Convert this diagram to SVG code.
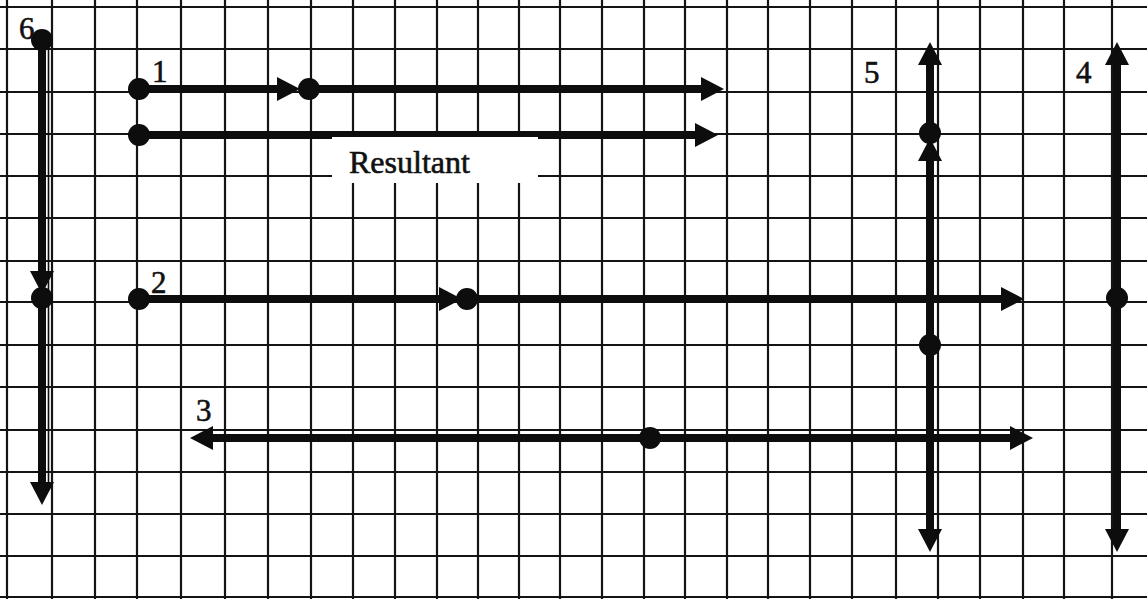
<svg xmlns="http://www.w3.org/2000/svg" width="1147" height="599" viewBox="0 0 1147 599">
  <defs>
    <style>
      .grid line { stroke: #141414; stroke-width: 2.2; }
      .vec { stroke: #0d0d0d; stroke-width: 8; fill: none; marker-end: url(#head); }
      .dot { fill: #0d0d0d; }
      .lbl { font-family: "Liberation Serif", "Times New Roman", serif; font-size: 31px; fill: #111; stroke: #111; stroke-width: 0.6; }
    </style>
    <marker id="head" markerUnits="userSpaceOnUse" markerWidth="24" markerHeight="26" viewBox="0 0 24 26" refX="1" refY="13" orient="auto">
      <path d="M0,1 L23,13 L0,25 Z" fill="#0d0d0d"/>
    </marker>
  </defs>

  <rect width="1147" height="599" fill="#ffffff"/>

  <!-- square grid -->
  <g id="grid" class="grid">
    <line x1="7" y1="0" x2="7" y2="599"/>
    <line x1="52" y1="0" x2="52" y2="599"/>
    <line x1="95" y1="0" x2="95" y2="599"/>
    <line x1="137" y1="0" x2="137" y2="599"/>
    <line x1="181" y1="0" x2="181" y2="599"/>
    <line x1="225" y1="0" x2="225" y2="599"/>
    <line x1="268" y1="0" x2="268" y2="599"/>
    <line x1="311" y1="0" x2="311" y2="599"/>
    <line x1="353" y1="0" x2="353" y2="599"/>
    <line x1="395" y1="0" x2="395" y2="599"/>
    <line x1="437" y1="0" x2="437" y2="599"/>
    <line x1="478" y1="0" x2="478" y2="599"/>
    <line x1="519" y1="0" x2="519" y2="599"/>
    <line x1="560" y1="0" x2="560" y2="599"/>
    <line x1="602" y1="0" x2="602" y2="599"/>
    <line x1="644" y1="0" x2="644" y2="599"/>
    <line x1="685" y1="0" x2="685" y2="599"/>
    <line x1="727" y1="0" x2="727" y2="599"/>
    <line x1="768" y1="0" x2="768" y2="599"/>
    <line x1="810" y1="0" x2="810" y2="599"/>
    <line x1="852" y1="0" x2="852" y2="599"/>
    <line x1="896" y1="0" x2="896" y2="599"/>
    <line x1="938" y1="0" x2="938" y2="599"/>
    <line x1="980" y1="0" x2="980" y2="599"/>
    <line x1="1023" y1="0" x2="1023" y2="599"/>
    <line x1="1064" y1="0" x2="1064" y2="599"/>
    <line x1="1112" y1="0" x2="1112" y2="599"/>

    <line x1="0" y1="7" x2="1147" y2="7"/>
    <line x1="0" y1="49" x2="1147" y2="49"/>
    <line x1="0" y1="92" x2="1147" y2="92"/>
    <line x1="0" y1="134" x2="1147" y2="134"/>
    <line x1="0" y1="176" x2="1147" y2="176"/>
    <line x1="0" y1="218" x2="1147" y2="218"/>
    <line x1="0" y1="261" x2="1147" y2="261"/>
    <line x1="0" y1="302" x2="1147" y2="302"/>
    <line x1="0" y1="345" x2="1147" y2="345"/>
    <line x1="0" y1="387" x2="1147" y2="387"/>
    <line x1="0" y1="430" x2="1147" y2="430"/>
    <line x1="0" y1="472" x2="1147" y2="472"/>
    <line x1="0" y1="514" x2="1147" y2="514"/>
    <line x1="0" y1="556" x2="1147" y2="556"/>
    <line x1="0" y1="597" x2="1147" y2="597"/>
  </g>

  <!-- vectors -->
  <g id="connectors">
    <!-- 1: two vectors tip to tail -->
    <line class="vec" x1="139" y1="89" x2="278" y2="89"/>
    <line class="vec" x1="309" y1="89" x2="702" y2="89"/>
    <!-- resultant -->
    <line class="vec" x1="139" y1="135" x2="696" y2="135"/>
    <!-- 2 -->
    <line class="vec" x1="139" y1="299" x2="440" y2="299"/>
    <line class="vec" x1="467" y1="299" x2="1002" y2="299"/>
    <!-- 3: opposite vectors from one point -->
    <line class="vec" x1="650" y1="438" x2="212" y2="438"/>
    <line class="vec" x1="650" y1="438" x2="1011" y2="438"/>
    <!-- 4 -->
    <line class="vec" x1="1117" y1="298" x2="1117" y2="64"/>
    <line class="vec" x1="1117" y1="298" x2="1117" y2="530"/>
    <!-- 5 -->
    <line class="vec" x1="930" y1="345" x2="930" y2="160"/>
    <line class="vec" x1="930" y1="133" x2="930" y2="64"/>
    <line class="vec" x1="930" y1="345" x2="930" y2="530"/>
    <!-- 6 -->
    <line class="vec" x1="42" y1="40" x2="42" y2="272"/>
    <line class="vec" x1="42" y1="298" x2="42" y2="483"/>
    <line x1="48.5" y1="42" x2="48.5" y2="490" stroke="#0d0d0d" stroke-width="1.6"/>
  </g>

  <!-- caption panel over the resultant -->
  <g id="resultant-label">
    <rect x="332" y="137" width="206" height="46" fill="#ffffff"/>
    <text class="lbl" x="349" y="173" font-size="30" textLength="121" lengthAdjust="spacingAndGlyphs">Resultant</text>
  </g>

  <!-- tail / joint points -->
  <g id="points">
    <circle class="dot" cx="139" cy="89" r="11"/>
    <circle class="dot" cx="309" cy="89" r="11"/>
    <circle class="dot" cx="139" cy="135" r="11"/>
    <circle class="dot" cx="139" cy="299" r="11"/>
    <circle class="dot" cx="467" cy="299" r="11"/>
    <circle class="dot" cx="650" cy="438" r="11"/>
    <circle class="dot" cx="1117" cy="298" r="11"/>
    <circle class="dot" cx="930" cy="133" r="11"/>
    <circle class="dot" cx="930" cy="345" r="11"/>
    <circle class="dot" cx="42" cy="40" r="11"/>
    <circle class="dot" cx="42" cy="298" r="11"/>
  </g>

  <!-- problem numbers -->
  <g id="labels">
    <text class="lbl" x="152" y="82" font-size="34">1</text>
    <text class="lbl" x="151" y="293">2</text>
    <text class="lbl" x="196" y="421" font-size="33">3</text>
    <text class="lbl" x="1076" y="83">4</text>
    <text class="lbl" x="864" y="83">5</text>
    <text class="lbl" x="19" y="39">6</text>
  </g>
</svg>
